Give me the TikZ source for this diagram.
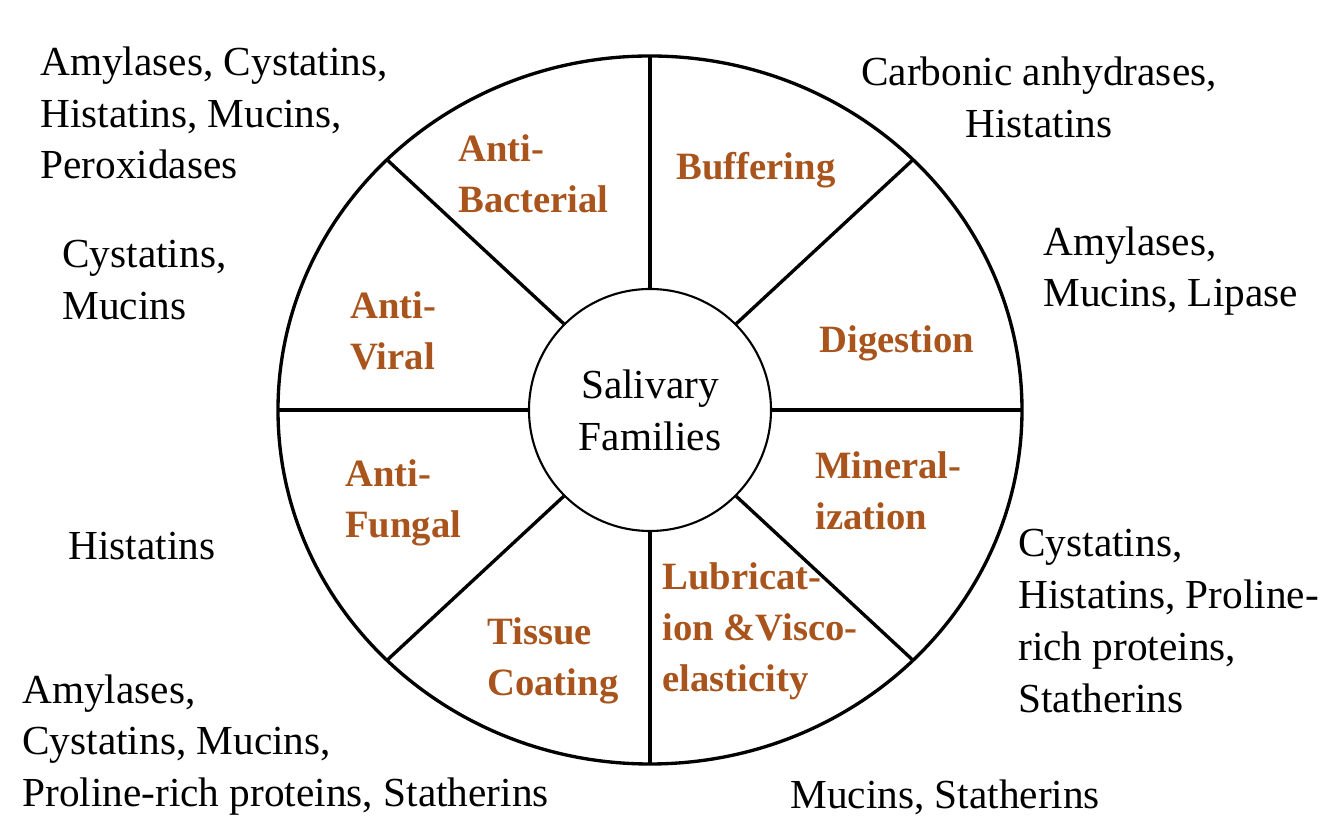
\documentclass[tikz,border=0pt]{standalone}
\usepackage{fontspec}
\setmainfont{Liberation Serif}
\usepackage{tikz}
\usetikzlibrary{positioning}
\definecolor{fbrown}{RGB}{168,84,28}

\begin{document}
\begin{tikzpicture}[
  func/.style={
    text=fbrown, inner sep=0pt, align=left,
    font=\fontsize{22}{29}\selectfont\bfseries
  },
  fam/.style={
    inner sep=0pt, align=left,
    font=\fontsize{23.5}{29.5}\selectfont
  },
  spoke/.style={line width=1.9pt}
]
  \useasboundingbox (-13,-8.18) rectangle (13.7,8.2);

  % wheel
  \draw[spoke] (0,0) ellipse (7.44 and 7.08);
  \node[circle, draw, line width=1.2pt, minimum size=4.84cm,
        align=center, font=\fontsize{23.5}{29.5}\selectfont] (hub) {Salivary\\Families};
  \foreach \a in {0,45,...,315}
    \draw[spoke] (hub.\a) -- (\a:7.44 and 7.08);

  % functions
  \node[func, anchor=west] (bact) at (-3.84,4.72) {Anti-\\Bacterial};
  \node[func] (buff) at (2.12,4.8) {Buffering};
  \node[func, anchor=west] (vir) at (-6.0,1.58) {Anti-\\Viral};
  \node[func] (dig) at (4.94,1.34) {Digestion};
  \node[func, anchor=west] (fung) at (-6.1,-1.86) {Anti-\\Fungal};
  \node[func, anchor=west] (mine) at (3.3,-1.62) {Mineral-\\ization};
  \node[func, anchor=west] (tiss) at (-3.26,-5.02) {Tissue\\Coating};
  \node[func, anchor=west] (lubr) at (0.24,-4.42) {Lubricat-\\ion \&Visco-\\elasticity};

  % protein families
  \node[fam, anchor=west] (bactfam) at (-12.2,5.94) {Amylases, Cystatins,\\Histatins, Mucins,\\Peroxidases};
  \node[fam, anchor=west] (virfam) at (-11.76,2.6) {Cystatins,\\Mucins};
  \node[fam, anchor=west] (fungfam) at (-11.64,-2.72) {Histatins};
  \node[fam, anchor=west] (tissfam) at (-12.56,-6.7) {Amylases,\\Cystatins, Mucins,\\Proline-rich proteins, Statherins};
  \node[fam, align=center] (bufffam) at (7.78,6.25) {Carbonic anhydrases,\\Histatins};
  \node[fam, anchor=west] (digfam) at (7.86,2.78) {Amylases,\\Mucins, Lipase};
  \node[fam, anchor=west] (minefam) at (7.36,-4.22) {Cystatins,\\Histatins, Proline-\\rich proteins,\\Statherins};
  \node[fam, anchor=west] (lubrfam) at (2.8,-7.74) {Mucins, Statherins};
\end{tikzpicture}
\end{document}
